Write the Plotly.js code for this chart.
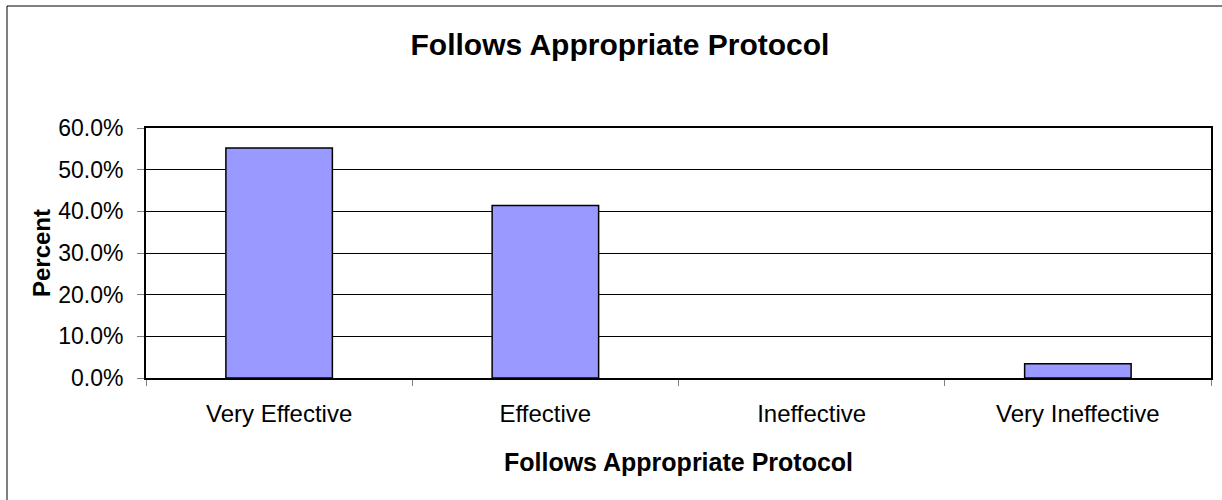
<!DOCTYPE html>
<html>
<head>
<meta charset="utf-8">
<script src="https://cdn.plot.ly/plotly-3.0.1.min.js"></script>
<style>html,body{margin:0;padding:0;background:#fff;}#chart{width:1222px;height:500px;}</style>
</head>
<body>
<div id="chart"></div>
<script>
var categories = ["Very Effective", "Effective", "Ineffective", "Very Ineffective"];
var percentValues = [0.552, 0.414, 0.0, 0.034];
var yTickValues = [0, 0.1, 0.2, 0.3, 0.4, 0.5, 0.6];
var chartTitle = "Follows Appropriate Protocol";
var xTitle = "Follows Appropriate Protocol";
var yTitle = "Percent";

var W = 1222, H = 500;
var mL = 146, mR = 11, mT = 128, mB = 122;
var pw = W - mL - mR, ph = H - mT - mB;
function px(x){ return (x - mL) / pw; }
function py(y){ return (H - mB - y) / ph; }

var font = "Liberation Sans, Arial, sans-serif";

var trace = {
  type: "bar",
  x: categories,
  y: percentValues,
  marker: {
    color: "#9999FF",
    line: {color: "#000000", width: percentValues.map(function(v){ return v > 0 ? 1.5 : 0; })}
  },
  hoverinfo: "x+y"
};

var layout = {
  width: W, height: H,
  margin: {l: mL, r: mR, t: mT, b: mB, pad: 0},
  paper_bgcolor: "#ffffff",
  plot_bgcolor: "#ffffff",
  bargap: 0.6,
  showlegend: false,
  font: {family: font, color: "#000000"},
  title: {
    text: "<b>" + chartTitle + "</b>",
    font: {family: font, size: 30, color: "#000000"},
    xref: "container", x: 620 / W, xanchor: "center",
    yref: "container", y: 1 - 44 / H, yanchor: "middle"
  },
  xaxis: {
    type: "category",
    showline: true, linecolor: "#000000", linewidth: 2, mirror: true,
    showgrid: false, zeroline: false,
    ticks: "outside", tickson: "boundaries", ticklen: 6, tickcolor: "#808080", tickwidth: 1,
    tickfont: {family: font, size: 24, color: "#000000"},
    ticklabelstandoff: 13,
    title: {text: "<b>" + xTitle + "</b>", font: {family: font, size: 25, color: "#000000"}, standoff: 28},
    fixedrange: true
  },
  yaxis: {
    range: [0, 0.6],
    tickvals: yTickValues,
    tickformat: ".1%",
    showline: true, linecolor: "#000000", linewidth: 2, mirror: true,
    showgrid: true, gridcolor: "#000000", gridwidth: 1,
    zeroline: false,
    ticks: "outside", ticklen: 7, tickcolor: "#808080", tickwidth: 1,
    tickfont: {family: font, size: 23, color: "#000000"},
    ticklabelstandoff: 9,
    title: {text: "<b>" + yTitle + "</b>", font: {family: font, size: 24, color: "#000000"}, standoff: 1},
    fixedrange: true
  },
  shapes: [{
    type: "rect", xref: "paper", yref: "paper",
    x0: px(7), x1: px(1230), y0: py(510), y1: py(6),
    line: {color: "#000000", width: 1}, fillcolor: "rgba(0,0,0,0)", layer: "below"
  }]
};

Plotly.newPlot("chart", [trace], layout, {displayModeBar: false, staticPlot: true});
</script>
</body>
</html>
